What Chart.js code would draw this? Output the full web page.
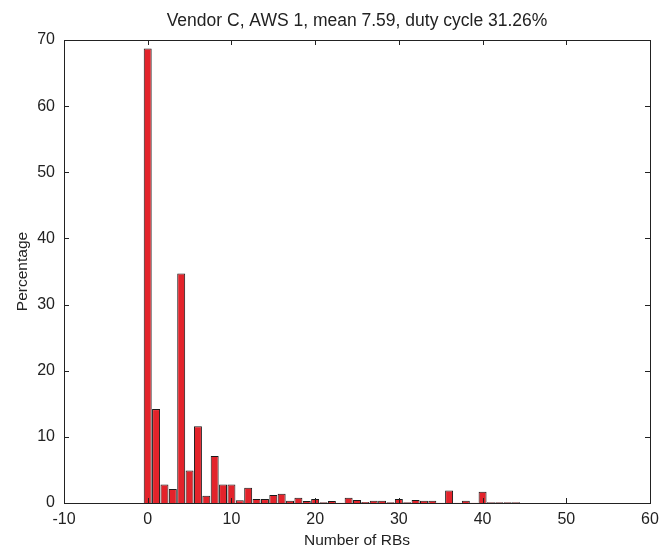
<!DOCTYPE html>
<html>
<head>
<meta charset="utf-8">
<script src="https://cdn.jsdelivr.net/npm/chart.js@4"></script>
<style>
  html, body { margin: 0; padding: 0; background: #fff; }
  #wrap { width: 661px; height: 550px; }
</style>
</head>
<body>
<div id="wrap"><canvas id="histChart" width="661" height="550"></canvas></div>
<script>
// Data
const chartTitle = 'Vendor C, AWS 1, mean 7.59, duty cycle 31.26%';
const rbCounts = [0, 1, 2, 3, 4, 5, 6, 7, 8, 9, 10, 11, 12, 13, 14, 15, 16, 17, 18, 19, 20, 21, 22,
  23, 24, 25, 26, 27, 28, 29, 30, 31, 32, 33, 34, 35, 36, 37, 38, 39, 40, 41, 42, 43, 44];
const percentages = [68.7, 14.2, 2.8, 2.1, 34.7, 4.9, 11.6, 1.1, 7.1, 2.8, 2.8, 0.4, 2.3, 0.6, 0.6, 1.2, 1.4, 0.35, 0.8, 0.3, 0.6, 0.1, 0.3,
  0.05, 0.8, 0.45, 0.15, 0.35, 0.35, 0.1, 0.6, 0.1, 0.45, 0.35, 0.35, 0.05, 1.9, 0.05, 0.35, 0.05, 1.7, 0.1, 0.1, 0.1, 0.1];
const xTicks = [-10, 0, 10, 20, 30, 40, 50, 60];
const yTicks = [0, 10, 20, 30, 40, 50, 60, 70];

const fontFamily = "'Liberation Sans', Arial, sans-serif";

// MATLAB style box with inward ticks on all sides
const boxPlugin = {
  id: 'matlabBox',
  afterLayout(chart) {
    // centre the title over the plot area, not the whole canvas
    const t = chart.titleBlock;
    if (t) {
      t.left = chart.chartArea.left;
      t.right = chart.chartArea.right;
    }
  },
  afterDraw(chart) {
    const {ctx, chartArea: a, scales: {x, y}} = chart;
    ctx.save();
    ctx.strokeStyle = '#222';
    ctx.lineWidth = 1;
    ctx.strokeRect(Math.round(a.left) + 0.5, Math.round(a.top) + 0.5,
      Math.round(a.right - a.left), Math.round(a.bottom - a.top));
    const len = 5;
    ctx.beginPath();
    xTicks.forEach(v => {
      const px = Math.round(x.getPixelForValue(v)) + 0.5;
      ctx.moveTo(px, a.bottom); ctx.lineTo(px, a.bottom - len);
      ctx.moveTo(px, a.top); ctx.lineTo(px, a.top + len);
    });
    yTicks.forEach(v => {
      const py = Math.round(y.getPixelForValue(v)) + 0.5;
      ctx.moveTo(a.left, py); ctx.lineTo(a.left + len, py);
      ctx.moveTo(a.right, py); ctx.lineTo(a.right - len, py);
    });
    ctx.stroke();
    ctx.restore();
  }
};

const histData = {
  datasets: [{
    label: 'Percentage',
    data: rbCounts.map((v, i) => ({x: v, y: percentages[i]})),
    backgroundColor: '#e3232b',
    borderColor: '#1a1a1a',
    borderWidth: 1,
    barPercentage: 0.95,
    categoryPercentage: 1
  }]
};

const histConfig = {
  type: 'bar',
  data: histData,
  options: {
    responsive: false,
    animation: false,
    layout: { padding: { left: 0, right: 11, top: 0, bottom: 0 } },
    plugins: {
      legend: { display: false },
      tooltip: { enabled: false },
      title: {
        display: true,
        text: chartTitle,
        color: '#222',
        font: { family: fontFamily, size: 17.5, weight: 'normal' },
        padding: { top: 11, bottom: 8 }
      }
    },
    scales: {
      x: {
        type: 'linear',
        min: -10,
        max: 60,
        offset: false,
        grid: { display: false, drawTicks: false },
        border: { display: false },
        ticks: {
          stepSize: 10,
          color: '#222',
          padding: 7,
          maxRotation: 0,
          font: { family: fontFamily, size: 16 }
        },
        title: {
          display: true,
          text: 'Number of RBs',
          color: '#222',
          font: { family: fontFamily, size: 15.5 },
          padding: { top: 0, bottom: 0 }
        },
        afterFit(scale) {
          scale.height = 47;
          scale.paddingLeft = 0;
          scale.paddingRight = 0;
        }
      },
      y: {
        min: 0,
        max: 70,
        grid: { display: false, drawTicks: false },
        border: { display: false },
        ticks: {
          stepSize: 10,
          color: '#222',
          padding: 9,
          font: { family: fontFamily, size: 16 }
        },
        title: {
          display: true,
          text: 'Percentage',
          color: '#222',
          font: { family: fontFamily, size: 15.5 },
          padding: { top: 13, bottom: 0 }
        },
        afterFit(scale) { scale.width = 64; }
      }
    }
  },
  plugins: [boxPlugin]
};

const histChart = new Chart(document.getElementById('histChart'), histConfig);
</script>
</body>
</html>
